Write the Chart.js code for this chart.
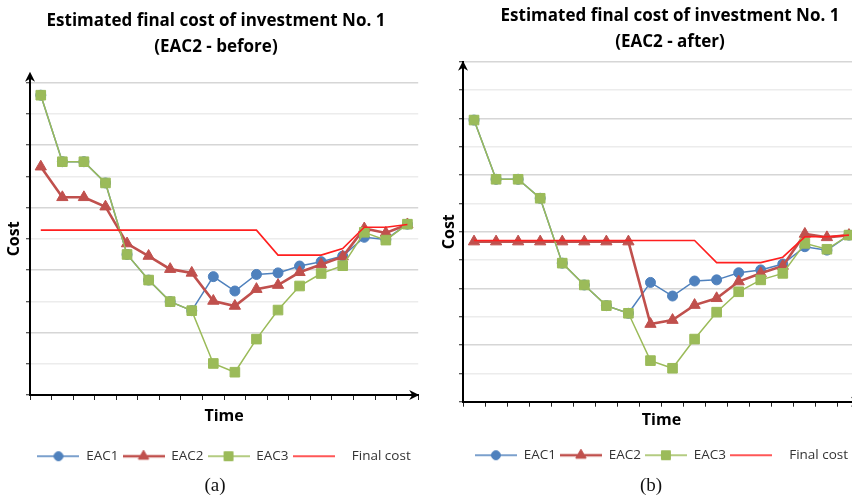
<!DOCTYPE html>
<html>
<head>
<meta charset="utf-8">
<script src="https://cdn.jsdelivr.net/npm/chart.js@4.4.1/dist/chart.umd.min.js"></script>
<style>
  html, body { margin: 0; padding: 0; background: #fff; width: 852px; height: 497px; overflow: hidden; }
  .chart { position: absolute; top: 0; }
  .heading {
    position: absolute; transform: translateX(-50%); white-space: nowrap; text-align: center;
    font-family: "Open Sans", sans-serif; font-weight: 700; font-size: 17px; line-height: 26px; color: #000;
  }
  .caption {
    position: absolute; transform: translateX(-50%);
    font-family: "Liberation Serif", "Times New Roman", serif; font-size: 19px; line-height: 20px; color: #111;
  }
</style>
</head>
<body>
<canvas id="before" class="chart" width="426" height="497" style="left:0px"></canvas>
<canvas id="after" class="chart" width="460" height="497" style="left:426px"></canvas>
<div class="heading" style="left:216px; top:7px">Estimated final cost of investment No. 1<br>(EAC2 - before)</div>
<div class="heading" style="left:670px; top:2px">Estimated final cost of investment No. 1<br>(EAC2 - after)</div>
<div class="caption" style="left:215px; top:475px">(a)</div>
<div class="caption" style="left:651px; top:475px">(b)</div>

<script>
// Reporting periods along the time axis
const periods = ['1', '2', '3', '4', '5', '6', '7', '8', '9', '10', '11', '12', '13', '14', '15', '16', '17', '18'];

// (a) EAC2 - before
const eac1Before  = [9.6, 7.47, 7.47, 6.79, 4.5, 3.68, 2.99, 2.70, 3.79, 3.33, 3.86, 3.91, 4.13, 4.27, 4.45, 5.05, 4.98, 5.47];
const eac2Before  = [7.31, 6.33, 6.33, 6.03, 4.85, 4.45, 4.03, 3.91, 3.01, 2.85, 3.39, 3.52, 3.93, 4.18, 4.43, 5.33, 5.19, 5.46];
const eac3Before  = [9.6, 7.47, 7.47, 6.79, 4.5, 3.68, 2.99, 2.70, 1.01, 0.73, 1.79, 2.72, 3.49, 3.89, 4.14, 5.21, 4.96, 5.47];
const finalBefore = [5.28, 5.28, 5.28, 5.28, 5.28, 5.28, 5.28, 5.28, 5.28, 5.28, 5.28, 4.48, 4.48, 4.48, 4.69, 5.37, 5.37, 5.46];

// (b) EAC2 - after
const eac1After  = [9.94, 7.85, 7.85, 7.18, 4.89, 4.12, 3.39, 3.12, 4.21, 3.73, 4.26, 4.30, 4.55, 4.65, 4.86, 5.47, 5.35, 5.88];
const eac2After  = [5.65, 5.65, 5.65, 5.65, 5.65, 5.65, 5.65, 5.65, 2.74, 2.88, 3.41, 3.65, 4.24, 4.53, 4.79, 5.92, 5.80, 5.88];
const eac3After  = [9.94, 7.85, 7.85, 7.18, 4.89, 4.12, 3.39, 3.12, 1.45, 1.18, 2.21, 3.16, 3.88, 4.30, 4.53, 5.59, 5.38, 5.88];
const finalAfter = [5.69, 5.69, 5.69, 5.69, 5.69, 5.69, 5.69, 5.69, 5.69, 5.69, 5.69, 4.91, 4.91, 4.91, 5.10, 5.82, 5.82, 5.88];

const FONT = '"Open Sans", sans-serif';
Chart.defaults.font.family = FONT;

// Legend key: a short line segment with the series marker in its middle
function legendKey(ds) {
  const c = document.createElement('canvas');
  c.width = 42; c.height = 14;
  const g = c.getContext('2d');
  g.strokeStyle = ds.borderColor;
  g.lineWidth = ds.borderWidth;
  g.beginPath(); g.moveTo(0, 7); g.lineTo(42, 7); g.stroke();
  if (ds.pointRadius > 0) {
    g.fillStyle = ds.pointBackgroundColor;
    g.strokeStyle = ds.pointBorderColor;
    g.lineWidth = 1;
    Chart.helpers.drawPoint(g, { pointStyle: ds.pointStyle, radius: ds.pointRadius - 0.5, rotation: 0, borderWidth: 1 }, 21, 7);
  }
  return c;
}

function legendItems(chart) {
  return chart.data.datasets.map((ds, i) => ({
    text: ' '.repeat(ds.keyIndent || 0) + ds.label,
    pointStyle: legendKey(ds),
    fillStyle: ds.borderColor,
    strokeStyle: ds.borderColor,
    lineWidth: 0,
    fontColor: '#333',
    hidden: !chart.isDatasetVisible(i),
    datasetIndex: i
  }));
}

// Arrow heads at the ends of both axes
const axisArrows = {
  id: 'axisArrows',
  afterDraw(chart, args, opts) {
    const { ctx, chartArea: { left, right, top, bottom } } = chart;
    ctx.save();
    ctx.strokeStyle = '#000';
    ctx.fillStyle = '#000';
    ctx.lineWidth = 2;
    const yTip = top - opts.yOver;
    ctx.beginPath(); ctx.moveTo(left, top + 1); ctx.lineTo(left, yTip + 3); ctx.stroke();
    ctx.beginPath();
    ctx.moveTo(left, yTip); ctx.lineTo(left + 5, yTip + 10); ctx.lineTo(left, yTip + 7); ctx.lineTo(left - 5, yTip + 10);
    ctx.closePath(); ctx.fill();
    const xTip = right + opts.xOver;
    ctx.beginPath(); ctx.moveTo(right - 1, bottom); ctx.lineTo(xTip - 3, bottom); ctx.stroke();
    ctx.beginPath();
    ctx.moveTo(xTip, bottom); ctx.lineTo(xTip - 10, bottom - 5); ctx.lineTo(xTip - 7, bottom); ctx.lineTo(xTip - 10, bottom + 5);
    ctx.closePath(); ctx.fill();
    ctx.restore();
  }
};

function series(eac1, eac2, eac3, fin) {
  return [
    { label: 'EAC1', data: eac1, order: 4, borderColor: '#4F81BD', borderWidth: 1.5,
      pointStyle: 'circle', pointRadius: 5, pointBorderWidth: 1,
      pointBackgroundColor: '#4F81BD', pointBorderColor: '#4F81BD' },
    { label: 'EAC2', data: eac2, order: 3, borderColor: '#C0504D', borderWidth: 2.6,
      pointStyle: 'triangle', pointRadius: 6.5, pointBorderWidth: 1,
      pointBackgroundColor: '#C0504D', pointBorderColor: '#C0504D' },
    { label: 'EAC3', data: eac3, order: 2, borderColor: '#9BBB59', borderWidth: 1.5,
      pointStyle: 'rect', pointRadius: 6.8, pointBorderWidth: 1,
      pointBackgroundColor: '#9BBB59', pointBorderColor: '#9BBB59' },
    { label: 'Final cost', data: fin, order: 1, keyIndent: 3, borderColor: '#FF1F1F', borderWidth: 1.6,
      pointStyle: 'line', pointRadius: 0,
      pointBackgroundColor: '#FF1F1F', pointBorderColor: '#FF1F1F' }
  ];
}

function build(id, sets, p) {
  return new Chart(document.getElementById(id), {
    type: 'line',
    data: { labels: periods, datasets: sets },
    plugins: [axisArrows],
    options: {
      responsive: false,
      animation: false,
      devicePixelRatio: 1,
      events: [],
      layout: { padding: { top: p.top, bottom: p.bottom, left: 0, right: p.right } },
      elements: { line: { tension: 0 } },
      scales: {
        x: {
          type: 'category',
          offset: true,
          ticks: { display: false },
          grid: { offset: true, drawOnChartArea: false, drawTicks: true, tickLength: 5, tickColor: '#222', tickWidth: 1 },
          border: { display: true, color: '#000', width: 2 },
          title: { display: true, text: 'Time', color: '#000', font: { family: FONT, size: 16, weight: 'bold' },
                   padding: { top: 0, bottom: p.timePad } },
          afterFit: (s) => { s.height = p.xHeight; }
        },
        y: {
          type: 'linear',
          min: 0, max: p.yMax,
          ticks: { display: false, stepSize: 1 },
          grid: {
            color: (c) => (c.tick && c.tick.value % 2 === 0) ? '#d6d6d6' : '#ececec',
            lineWidth: 1.5, drawTicks: true, tickLength: 4, tickColor: '#222', tickWidth: 1
          },
          border: { display: true, color: '#000', width: 2 },
          title: { display: true, text: 'Cost', color: '#000', font: { family: FONT, size: 16, weight: 'bold' },
                   padding: { top: p.costPad, bottom: 0 } },
          afterFit: (s) => { s.width = p.yWidth; }
        }
      },
      plugins: {
        tooltip: { enabled: false },
        title: { display: false },
        axisArrows: { yOver: p.yOver, xOver: 1 },
        legend: {
          display: true,
          position: 'bottom',
          fullSize: false,
          labels: {
            usePointStyle: true,
            pointStyleWidth: 42,
            boxHeight: 12,
            padding: 4,
            color: '#333',
            font: { family: FONT, size: 13.5 },
            generateLabels: legendItems
          }
        }
      }
    }
  });
}

build('before', series(eac1Before, eac2Before, eac3Before, finalBefore),
  { top: 82.7, bottom: 24, right: 5, yMax: 10, xHeight: 50.5, timePad: 19.9, yWidth: 30, costPad: 5, yOver: 11 });

build('after', series(eac1After, eac2After, eac3After, finalAfter),
  { top: 61.7, bottom: 25, right: 26, yMax: 12, xHeight: 42.8, timePad: 14.9, yWidth: 37, costPad: 13.4, yOver: 1 });
</script>
</body>
</html>
